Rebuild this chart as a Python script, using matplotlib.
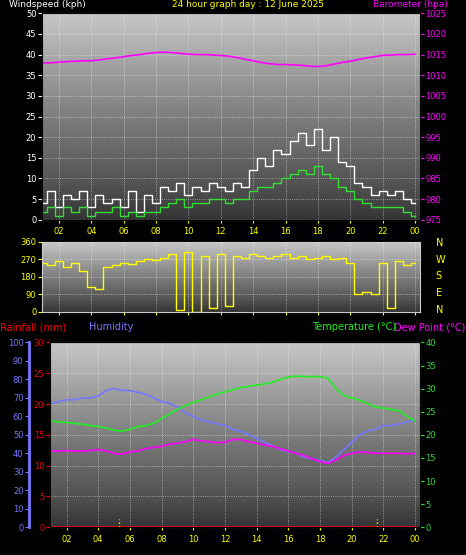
import numpy as np
import matplotlib.pyplot as plt

# hours of day (01 -> 24 = midnight)
hrs = [1.0, 1.5, 2.0, 2.5, 3.0, 3.5, 4.0, 4.5, 5.0, 5.5, 6.0, 6.5, 7.0, 7.5, 8.0, 8.5,
       9.0, 9.5, 10.0, 10.5, 11.0, 11.5, 12.0, 12.5, 13.0, 13.5, 14.0, 14.5, 15.0, 15.5,
       16.0, 16.5, 17.0, 17.5, 18.0, 18.5, 19.0, 19.5, 20.0, 20.5, 21.0, 21.5, 22.0, 22.5,
       23.0, 23.5, 24.0]
gust = [4, 7, 3, 6, 5, 7, 3, 6, 4, 5, 3, 7, 2, 6, 4, 8, 7, 9, 6, 8, 7, 9, 8, 7, 9, 8,
        12, 15, 13, 17, 16, 19, 21, 18, 22, 17, 20, 14, 13, 9, 8, 6, 7, 6, 7, 5, 4]
avg = [2, 3, 1, 3, 2, 3, 1, 2, 2, 3, 1, 2, 1, 2, 2, 3, 4, 5, 3, 4, 4, 5, 5, 4, 5, 5,
       7, 8, 8, 9, 10, 11, 12, 11, 13, 11, 10, 8, 7, 5, 4, 3, 3, 3, 3, 2, 1]
baro = [1013.0, 1013.0, 1013.2, 1013.3, 1013.4, 1013.5, 1013.5, 1013.7, 1014.0, 1014.2,
        1014.5, 1014.8, 1015.0, 1015.3, 1015.5, 1015.6, 1015.5, 1015.3, 1015.1, 1015.0,
        1015.0, 1014.9, 1014.8, 1014.6, 1014.3, 1013.9, 1013.5, 1013.1, 1012.8, 1012.6,
        1012.6, 1012.5, 1012.4, 1012.2, 1012.1, 1012.3, 1012.7, 1013.1, 1013.4, 1013.8,
        1014.2, 1014.5, 1014.8, 1014.9, 1015.0, 1015.0, 1015.1]
wdir = [250, 240, 260, 230, 250, 210, 130, 120, 230, 240, 250, 245, 260, 270, 265, 280,
        300, 10, 310, 0, 290, 20, 300, 30, 290, 280, 300, 290, 280, 290, 300, 280, 290,
        270, 280, 290, 270, 280, 250, 90, 100, 90, 250, 20, 260, 240, 250]
hum = [67, 68, 69, 69, 70, 70, 71, 74, 75, 74, 74, 73, 72, 70, 68, 67, 65, 62, 60, 58,
       57, 56, 55, 53, 52, 50, 48, 46, 44, 42, 41, 40, 38, 37, 36, 35, 38, 42, 46, 50,
       52, 53, 55, 55, 56, 57, 58]
temp = [23.0, 22.8, 22.7, 22.5, 22.3, 22.0, 21.8, 21.5, 21.0, 20.8, 21.2, 21.8, 22.0,
        22.5, 23.5, 24.5, 25.5, 26.3, 27.0, 27.6, 28.2, 28.8, 29.3, 29.8, 30.2, 30.5,
        30.8, 31.0, 31.4, 32.0, 32.5, 32.7, 32.6, 32.6, 32.6, 32.3, 30.0, 28.5, 28.0,
        27.5, 26.8, 26.0, 25.8, 25.5, 25.2, 24.0, 23.0]
dew = [16.5, 16.5, 16.6, 16.5, 16.5, 16.6, 16.8, 16.5, 16.0, 15.8, 16.3, 16.5, 17.0,
       17.3, 17.5, 18.0, 18.2, 18.5, 19.0, 18.7, 18.5, 18.3, 18.4, 19.0, 19.0, 18.5,
       18.2, 17.8, 17.5, 17.0, 16.5, 16.0, 15.5, 14.8, 14.2, 13.8, 14.5, 15.5, 16.0,
       16.3, 16.2, 16.0, 16.0, 16.0, 16.0, 15.9, 16.0]
rain = [0] * len(hrs)
xlabels = ['02', '04', '06', '08', '10', '12', '14', '16', '18', '20', '22', '00']

plt.rcParams['font.family'] = 'DejaVu Sans'
plt.rcParams['font.size'] = 6
fig = plt.figure(figsize=(4.66, 5.55), dpi=100, facecolor='black')
xmin, xmax = 0.95, 24.3
grad = np.linspace(0, 1, 100).reshape(-1, 1)


def style(ax, ymin, ymax, yticks, col='white', xlab=True):
    ax.set_facecolor('black')
    ax.imshow(grad, extent=[xmin, xmax, ymin, ymax], aspect='auto', cmap='Greys_r',
              vmin=-0.35, vmax=1.7, origin='lower', zorder=0)
    ax.set_xlim(xmin, xmax)
    ax.set_ylim(ymin, ymax)
    ax.set_xticks(range(2, 25, 2))
    ax.set_xticklabels(xlabels if xlab else [], color='yellow')
    ax.set_yticks(yticks)
    ax.tick_params(axis='y', colors=col, length=3, pad=1)
    ax.tick_params(axis='x', colors='yellow', length=2)
    ax.grid(color='white', linestyle=':', linewidth=0.6, alpha=0.6)
    for s in ax.spines.values():
        s.set_color('#cccccc')


ax1 = fig.add_axes([0.09, 0.604, 0.811, 0.372])
style(ax1, 0, 50, range(0, 51, 5))
ax1.step(hrs, gust, where='mid', color='white', lw=1)
ax1.step(hrs, avg, where='mid', color='#33dd33', lw=1)
b = ax1.twinx()
b.set_ylim(975, 1025)
b.set_yticks(range(975, 1026, 5))
b.tick_params(colors='magenta', length=3, pad=1)
b.plot(hrs, baro, color='magenta', lw=1.2)
fig.text(0.02, 0.992, 'Windspeed (kph)', color='white', fontsize=6.5, va='center')
fig.text(0.37, 0.992, '24 hour graph day : 12 June 2025', color='yellow', fontsize=6.5, va='center')
fig.text(0.8, 0.992, 'Barometer (hpa)', color='magenta', fontsize=6.5, va='center')

ax2 = fig.add_axes([0.09, 0.438, 0.811, 0.126])
style(ax2, 0, 360, range(0, 361, 90), col='yellow', xlab=False)
ax2.step(hrs, wdir, where='mid', color='yellow', lw=1)
for lab, yy in zip('NWSEN', [0.562, 0.532, 0.502, 0.472, 0.442]):
    fig.text(0.935, yy, lab, color='yellow', fontsize=7, va='center')

ax3 = fig.add_axes([0.107, 0.05, 0.794, 0.333])
style(ax3, 0, 30, range(0, 31, 5), col='red')
ax3.plot(hrs, rain, color='red', lw=2)
ax3.vlines([5.3, 21.6], 0, 1.3, color='yellow', linestyles=':', lw=1)
h = ax3.twinx()
h.yaxis.set_ticks_position('left')
h.yaxis.set_label_position('left')
h.spines['left'].set_position(('outward', 15))
h.spines['left'].set_color('#7777ff')
h.spines['left'].set_linewidth(2)
h.set_ylim(0, 100)
h.set_yticks(range(0, 101, 10))
h.tick_params(colors='#7777ff', length=3, pad=1)
h.plot(hrs, hum, color='#7777ff', lw=1.2)
t = ax3.twinx()
t.set_ylim(0, 40)
t.set_yticks(range(0, 41, 5))
t.tick_params(colors='#33dd33', length=3, pad=1)
t.plot(hrs, temp, color='#22ee22', lw=1.2)
t.plot(hrs, dew, color='magenta', lw=1.2)
fig.text(0.0, 0.41, 'Rainfall (mm)', color='red', fontsize=7, va='center')
fig.text(0.19, 0.41, 'Humidity', color='#7777ff', fontsize=7, va='center')
fig.text(0.67, 0.41, 'Temperature (°C)', color='#22ee22', fontsize=7, va='center')
fig.text(0.845, 0.41, 'Dew Point (°C)', color='magenta', fontsize=7, va='center')

fig.savefig('out.png', dpi=100, facecolor='black')
